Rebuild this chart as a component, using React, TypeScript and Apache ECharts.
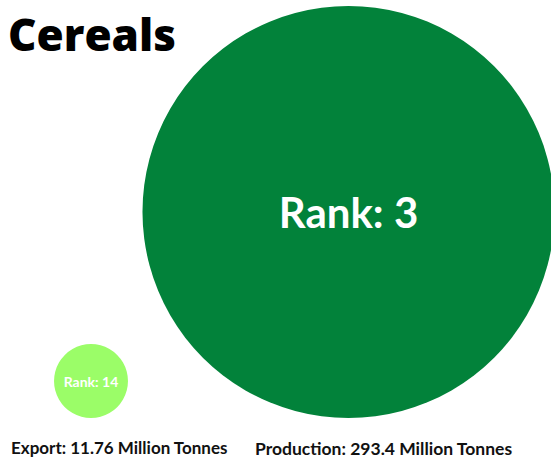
import React, { useEffect, useRef } from "react";
import * as echarts from "echarts";

const title = "Cereals";
const categories = ["Export", "Production"];
const amounts = [11.76, 293.4]; // Million Tonnes
const ranks = [14, 3];
const unit = "Million Tonnes";
const colors = ["#9BFD68", "#02823A"];

export default function App() {
  const ref = useRef<HTMLDivElement>(null);
  useEffect(() => {
    if (!ref.current) return;
    const chart = echarts.init(ref.current, null, { renderer: "svg" });
    const sizeOf = (v: number) => 19.83 * Math.pow(v, 0.534);
    const data = amounts.map((v, i) => {
      const s = sizeOf(v);
      return {
        value: [categories[i], 0],
        symbolSize: s,
        symbolOffset: [0, -s / 2],
        itemStyle: { color: colors[i], opacity: 1 },
        label: {
          show: true,
          position: "inside",
          formatter: "Rank: " + ranks[i],
          color: "#fff",
          fontFamily: "Lato",
          fontWeight: "bold",
          fontSize: i === 0 ? 14 : 42,
        },
      };
    });
    chart.setOption({
      animation: false,
      title: {
        text: title,
        left: 3,
        top: 7,
        textStyle: {
          fontFamily: "Open Sans",
          fontWeight: 800,
          fontSize: 44,
          color: "#000",
        },
      },
      grid: { left: 91, right: 202.5, top: 0, bottom: 43 },
      xAxis: {
        type: "category",
        data: categories,
        boundaryGap: false,
        show: false,
      },
      yAxis: { type: "value", min: 0, max: 1, show: false },
      series: [
        {
          type: "scatter",
          data,
          silent: true,
          itemStyle: { opacity: 1 },
        },
      ],
      graphic: [
        {
          type: "text",
          left: 11,
          top: 439,
          style: {
            text: `${categories[0]}: ${amounts[0]} ${unit}`,
            font: "bold 17px Lato",
            fill: "#111",
          },
        },
        {
          type: "text",
          left: 255,
          top: 439,
          style: {
            text: `${categories[1]}: ${amounts[1]} ${unit}`,
            font: "bold 17.5px Lato",
            fill: "#111",
          },
        },
      ],
    });
    return () => chart.dispose();
  }, []);
  return <div ref={ref} style={{ width: 551, height: 461, position: "absolute", left: 0, top: 0 }} />;
}
